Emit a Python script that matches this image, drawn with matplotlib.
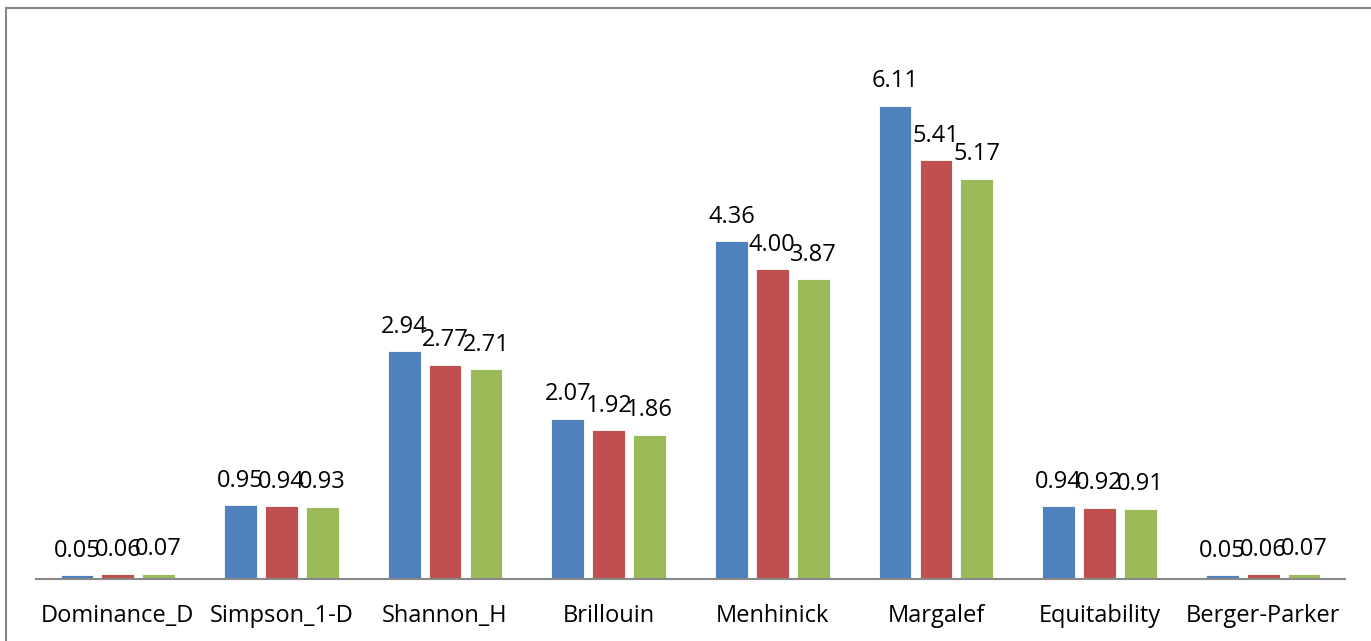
import matplotlib.pyplot as plt
import numpy as np

# Diversity indices, three samples
categories = ['Dominance_D', 'Simpson_1-D', 'Shannon_H', 'Brillouin',
              'Menhinick', 'Margalef', 'Equitability', 'Berger-Parker']
series_1 = [0.05, 0.95, 2.94, 2.07, 4.36, 6.11, 0.94, 0.05]
series_2 = [0.06, 0.94, 2.77, 1.92, 4.00, 5.41, 0.92, 0.06]
series_3 = [0.07, 0.93, 2.71, 1.86, 3.87, 5.17, 0.91, 0.07]
colors = ['#4F81BD', '#C0504D', '#9BBB59']

plt.rcParams['font.family'] = ['Open Sans', 'DejaVu Sans']

fig = plt.figure(figsize=(13.71, 6.41), dpi=100)
W, H = 1371, 641
ax = fig.add_axes([36 / W, 1 - 579 / H, (1345 - 36) / W, (579 - 37) / H])

x = np.arange(len(categories))
width = 0.2
offsets = [-0.25, 0, 0.25]
for vals, off, c in zip([series_1, series_2, series_3], offsets, colors):
    bars = ax.bar(x + off, vals, width, color=c, edgecolor='white', linewidth=0.6)
    for b, v in zip(bars, vals):
        ax.annotate('%.2f' % v, (b.get_x() + b.get_width() / 2, v),
                    xytext=(0, 9), textcoords='offset points',
                    ha='center', va='bottom', fontsize=17)

ax.set_xlim(-0.5, len(categories) - 0.5)
ax.set_ylim(0, 7)
ax.set_xticks(x)
ax.set_xticklabels(categories, fontsize=17)
ax.tick_params(axis='x', length=0, pad=18)
ax.set_yticks([])
for s in ['top', 'right', 'left']:
    ax.spines[s].set_visible(False)
ax.spines['bottom'].set_color('#888888')
ax.spines['bottom'].set_linewidth(1.5)

# chart frame (partly cropped)
fig.add_artist(plt.Line2D([6 / W, 6 / W], [0, 1 - 8 / H], color='#868686', lw=1.5))
fig.add_artist(plt.Line2D([6 / W, 1], [1 - 8 / H, 1 - 8 / H], color='#868686', lw=1.5))

fig.savefig('out.png', dpi=100)
